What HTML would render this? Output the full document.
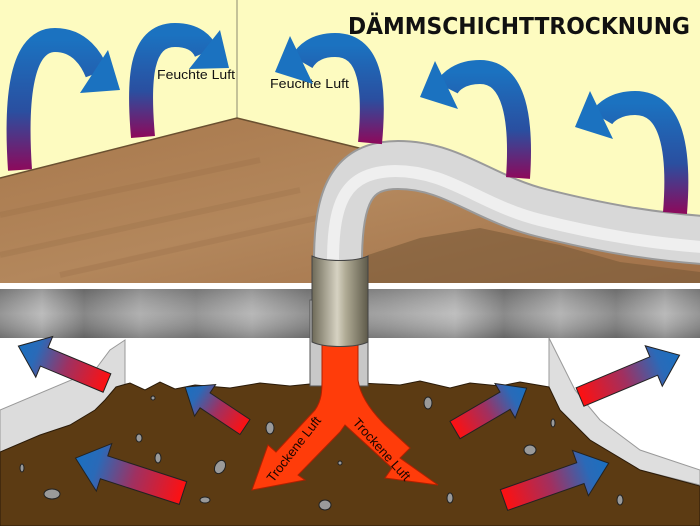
<!DOCTYPE html>
<html><head><meta charset="utf-8"><style>html,body{margin:0;padding:0;background:#fff}svg{display:block}</style></head>
<body>
<svg width="700" height="526" viewBox="0 0 700 526" xmlns="http://www.w3.org/2000/svg">
<defs>
<linearGradient id="wallArr" x1="0" y1="0" x2="0" y2="1">
<stop offset="0" stop-color="#1b72c0"/><stop offset="0.55" stop-color="#2a4fa0"/><stop offset="1" stop-color="#8c0a5c"/></linearGradient>
<linearGradient id="ug" x1="0" y1="0" x2="1" y2="0">
<stop offset="0" stop-color="#ff1010"/><stop offset="0.45" stop-color="#a03060"/><stop offset="0.8" stop-color="#2a6ab8"/><stop offset="1" stop-color="#1a70c0"/></linearGradient>
<linearGradient id="slab" x1="0" y1="0" x2="1" y2="0">
<stop offset="0" stop-color="#8a8a8a"/><stop offset="0.06" stop-color="#b5b5b5"/><stop offset="0.12" stop-color="#7a7a7a"/><stop offset="0.2" stop-color="#a8a8a8"/><stop offset="0.28" stop-color="#8c8c8c"/><stop offset="0.36" stop-color="#b0b0b0"/><stop offset="0.44" stop-color="#858585"/><stop offset="0.55" stop-color="#9a9a9a"/><stop offset="0.65" stop-color="#b8b8b8"/><stop offset="0.72" stop-color="#7e7e7e"/><stop offset="0.8" stop-color="#adadad"/><stop offset="0.88" stop-color="#808080"/><stop offset="0.95" stop-color="#b2b2b2"/><stop offset="1" stop-color="#8a8a8a"/></linearGradient>
<linearGradient id="slabv" x1="0" y1="0" x2="0" y2="1">
<stop offset="0" stop-color="#000" stop-opacity="0.15"/><stop offset="0.5" stop-color="#fff" stop-opacity="0.1"/><stop offset="1" stop-color="#000" stop-opacity="0.2"/></linearGradient>
<linearGradient id="sleeve" x1="0" y1="0" x2="1" y2="0">
<stop offset="0" stop-color="#6e6a58"/><stop offset="0.45" stop-color="#d6d2c2"/><stop offset="0.6" stop-color="#b0ab95"/><stop offset="1" stop-color="#5e5a4a"/></linearGradient>
<linearGradient id="floor" x1="0" y1="0" x2="1" y2="1">
<stop offset="0" stop-color="#a8784c"/><stop offset="0.5" stop-color="#b3875c"/><stop offset="1" stop-color="#a07048"/></linearGradient>
</defs>

<rect width="700" height="290" fill="#fdfbc0"/>
<line x1="237" y1="0" x2="237" y2="118" stroke="#8a8a70" stroke-width="1"/>
<polygon points="0,178 237,118 700,232 700,284 0,284" fill="url(#floor)"/>
<polyline points="0,178 237,118 700,232" fill="none" stroke="#6a5030" stroke-width="1.5"/>
<g stroke="#946a44" stroke-width="6" opacity="0.25">
<line x1="0" y1="215" x2="260" y2="160"/><line x1="0" y1="255" x2="300" y2="190"/><line x1="60" y1="275" x2="330" y2="215"/>
</g>
<polygon points="368,255 420,238 480,228 560,245 620,262 700,272 700,284 368,284" fill="#7a5a38" opacity="0.6"/>

<path d="M338,262 C338,195 352,165 398,165 C452,165 482,198 542,213 C602,228 650,236 702,240" fill="none" stroke="#9a9a9a" stroke-width="50"/>
<path d="M338,262 C338,195 352,165 398,165 C452,165 482,198 542,213 C602,228 650,236 702,240" fill="none" stroke="#d8d8d8" stroke-width="46"/>
<path d="M333,262 C333,200 346,172 395,171 C449,171 480,205 540,220 C600,235 650,243 702,247" fill="none" stroke="#efefef" stroke-width="12"/>

<text x="348" y="34" font-family="'DejaVu Sans Condensed','Liberation Sans Narrow','Liberation Sans',sans-serif" font-weight="bold" font-size="23" textLength="342" lengthAdjust="spacingAndGlyphs" fill="#111">DÄMMSCHICHTTROCKNUNG</text>
<text x="157" y="79" font-family="'Liberation Sans',sans-serif" font-size="13" fill="#111" textLength="78" lengthAdjust="spacingAndGlyphs">Feuchte Luft</text>
<text x="270" y="88" font-family="'Liberation Sans',sans-serif" font-size="13" fill="#111" textLength="79" lengthAdjust="spacingAndGlyphs">Feuchte Luft</text>

<g fill="none" stroke="url(#wallArr)" stroke-width="24">
<path d="M20,170 C16,110 18,40 55,40 C80,40 92,60 97,73"/>
<path d="M143,137 C138,80 140,35 175,35 C195,35 203,45 206,52"/>
<path d="M370,143 C375,90 372,45 335,45 C315,45 306,55 302,62"/>
<path d="M518,178 C522,120 515,72 480,72 C460,72 450,82 447,88"/>
<path d="M675,213 C680,150 672,103 635,103 C615,103 605,113 602,118"/>
</g>
<g fill="#1b72c0">
<polygon points="120,90 80,93 108,50"/>
<polygon points="229,68 189,69 220,30"/>
<polygon points="275,72 313,84 290,36"/>
<polygon points="420,97 458,109 435,61"/>
<polygon points="575,127 613,139 590,91"/>
</g>

<rect x="0" y="283" width="700" height="6" fill="#fff"/>
<rect x="0" y="289" width="700" height="49" fill="url(#slab)"/>
<rect x="0" y="289" width="700" height="49" fill="url(#slabv)"/>
<rect x="0" y="338" width="700" height="188" fill="#fff"/>

<polygon points="0,410 95,370 110,350 125,340 125,395 100,420 0,455" fill="#dcdcdc" stroke="#999" stroke-width="1"/>
<polygon points="549,338 560,360 575,390 600,420 640,450 700,470 700,485 640,470 590,440 560,410 549,390" fill="#dedede" stroke="#999" stroke-width="1"/>

<polygon points="0,452 40,435 70,425 95,410 105,400 116,387 130,383 145,390 160,382 175,389 195,385 230,388 260,383 290,386 320,383 360,383 400,385 420,381 450,388 470,383 500,386 520,382 549,387 560,410 590,440 640,470 700,486 700,526 0,526" fill="#5c3b13" stroke="#2a1a08" stroke-width="1"/>

<g fill="#9a9a9a" stroke="#222" stroke-width="1">
<ellipse cx="270" cy="428" rx="4" ry="6"/><ellipse cx="220" cy="467" rx="5" ry="7" transform="rotate(30 220 467)"/><ellipse cx="158" cy="458" rx="3" ry="5"/><ellipse cx="139" cy="438" rx="3" ry="4"/><ellipse cx="52" cy="494" rx="8" ry="5"/><ellipse cx="22" cy="468" rx="2" ry="4"/><ellipse cx="205" cy="500" rx="5" ry="3"/><ellipse cx="325" cy="505" rx="6" ry="5"/><ellipse cx="428" cy="403" rx="4" ry="6"/><ellipse cx="530" cy="450" rx="6" ry="5"/><ellipse cx="553" cy="423" rx="2" ry="4"/><ellipse cx="450" cy="498" rx="3" ry="5"/><ellipse cx="620" cy="500" rx="3" ry="5"/><ellipse cx="153" cy="398" rx="2" ry="2"/><ellipse cx="340" cy="463" rx="2" ry="2"/>
</g>

<rect x="310" y="300" width="58" height="86" fill="#c8c8c8" stroke="#555" stroke-width="1"/>
<path d="M322,338 L358,338 L358,380 C360,395 370,410 385,425 L410,448 L400,458 L438,485 L385,478 L392,468 L345,425 L340,432 L298,475 L305,480 L252,490 L268,445 L276,452 L315,410 C322,400 322,390 322,380 Z" fill="#ff3c0a" stroke="#b02000" stroke-width="1"/>
<path d="M312,256 C325,262 355,262 368,256 L368,342 C355,348 325,348 312,342 Z" fill="url(#sleeve)" stroke="#444" stroke-width="1"/>

<text font-family="'Liberation Sans',sans-serif" font-size="13" fill="#1a0500" transform="translate(273,483) rotate(-52)">Trockene Luft</text>
<text font-family="'Liberation Sans',sans-serif" font-size="13" fill="#1a0500" transform="translate(352,423) rotate(48)">Trockene Luft</text>

<g stroke="#222" stroke-width="1" fill="url(#ug)">
<polygon transform="translate(107,383) rotate(202.6)" points="0,-10 68,-10 68,-22 96,0 68,22 68,10 0,10"/>
<polygon transform="translate(245,427) rotate(213.7)" points="0,-9 48,-9 48,-19 72,0 48,19 48,9 0,9"/>
<polygon transform="translate(183,493) rotate(198)" points="0,-12 83,-12 83,-25 113,0 83,25 83,12 0,12"/>
<polygon transform="translate(455,430) rotate(-30.3)" points="0,-10 58,-10 58,-20 83,0 58,20 58,10 0,10"/>
<polygon transform="translate(580,397) rotate(-22.8)" points="0,-10 80,-10 80,-22 108,0 80,22 80,10 0,10"/>
<polygon transform="translate(504,500) rotate(-19.4)" points="0,-11 81,-11 81,-24 111,0 81,24 81,11 0,11"/>
</g>
</svg>
</body></html>
